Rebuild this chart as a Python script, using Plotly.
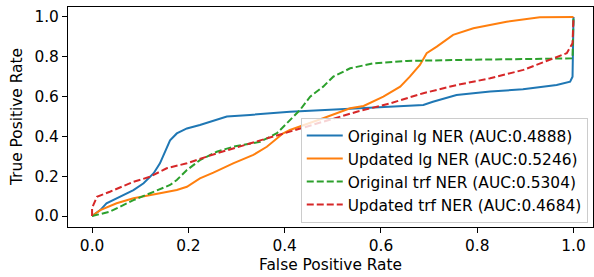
import plotly.graph_objects as go

# Original lg NER (blue, solid)
orig_lg_fpr = [0.0, 0.017, 0.03, 0.086, 0.107, 0.128, 0.141, 0.152, 0.162, 0.176, 0.197, 0.224, 0.259, 0.28, 0.328, 0.397, 0.411, 0.515, 0.598, 0.688, 0.708, 0.757, 0.827, 0.895, 0.965, 0.993, 0.998, 1.0]
orig_lg_tpr = [0.0, 0.03, 0.064, 0.13, 0.165, 0.215, 0.265, 0.33, 0.38, 0.415, 0.44, 0.457, 0.482, 0.5, 0.508, 0.524, 0.524, 0.536, 0.546, 0.558, 0.574, 0.608, 0.625, 0.637, 0.658, 0.675, 0.70, 1.0]

# Updated lg NER (orange, solid)
upd_lg_fpr = [0.0, 0.017, 0.051, 0.086, 0.141, 0.176, 0.197, 0.224, 0.252, 0.293, 0.335, 0.363, 0.397, 0.411, 0.48, 0.536, 0.564, 0.605, 0.64, 0.66, 0.681, 0.695, 0.716, 0.75, 0.792, 0.861, 0.93, 1.0]
upd_lg_tpr = [0.0, 0.03, 0.064, 0.089, 0.114, 0.131, 0.147, 0.189, 0.218, 0.265, 0.307, 0.348, 0.416, 0.432, 0.491, 0.541, 0.553, 0.60, 0.65, 0.70, 0.759, 0.818, 0.851, 0.91, 0.943, 0.976, 0.998, 1.0]

# Original trf NER (green, dashed)
orig_trf_fpr = [0.0, 0.037, 0.086, 0.12, 0.162, 0.176, 0.197, 0.224, 0.259, 0.293, 0.349, 0.384, 0.404, 0.432, 0.453, 0.48, 0.501, 0.536, 0.584, 0.654, 0.757, 0.896, 0.998, 1.0]
orig_trf_tpr = [0.0, 0.022, 0.08, 0.114, 0.156, 0.181, 0.231, 0.281, 0.323, 0.348, 0.373, 0.416, 0.466, 0.533, 0.60, 0.65, 0.70, 0.742, 0.767, 0.779, 0.784, 0.787, 0.792, 1.0]

# Updated trf NER (red, dashed)
upd_trf_fpr = [0.0, 0.0, 0.01, 0.037, 0.086, 0.12, 0.155, 0.197, 0.259, 0.328, 0.384, 0.48, 0.55, 0.619, 0.688, 0.757, 0.827, 0.896, 0.958, 0.986, 0.998, 1.0]
upd_trf_tpr = [0.0, 0.04, 0.097, 0.122, 0.172, 0.197, 0.24, 0.265, 0.315, 0.365, 0.407, 0.474, 0.524, 0.566, 0.617, 0.658, 0.692, 0.734, 0.792, 0.818, 0.868, 1.0]

names = ["Original lg NER (AUC:0.4888)", "Updated lg NER (AUC:0.5246)",
         "Original trf NER (AUC:0.5304)", "Updated trf NER (AUC:0.4684)"]
colors = ["#1f77b4", "#ff7f0e", "#2ca02c", "#d62728"]
dashes = ["solid", "solid", "7px,3px", "7px,3px"]
series = [(orig_lg_fpr, orig_lg_tpr), (upd_lg_fpr, upd_lg_tpr),
          (orig_trf_fpr, orig_trf_tpr), (upd_trf_fpr, upd_trf_tpr)]
tick_vals = [0, 0.2, 0.4, 0.6, 0.8, 1.0]
tick_text = ["0.0", "0.2", "0.4", "0.6", "0.8", "1.0"]

FONT = "DejaVu Sans"
FS = 15.4
fig = go.Figure()
for (xs, ys), n, c, d in zip(series, names, colors, dashes):
    fig.add_trace(go.Scatter(x=xs, y=ys, mode="lines", name=n,
                             line=dict(color=c, width=2, dash=d)))

axis_common = dict(showgrid=False, zeroline=False, showline=True, linecolor="black",
                   linewidth=1, mirror=True, ticks="outside", ticklen=5, tickwidth=1,
                   tickcolor="black", automargin=False,
                   tickfont=dict(family=FONT, size=FS, color="black"),
                   tickvals=tick_vals, ticktext=tick_text)
fig.update_xaxes(range=[-0.05, 1.0405], **axis_common)
fig.update_yaxes(range=[-0.055, 1.05], **axis_common)
fig.add_annotation(text="False Positive Rate", xref="paper", yref="paper",
                   x=0.5, y=-0.1727, xanchor="center", yanchor="middle", showarrow=False,
                   font=dict(family=FONT, size=FS, color="black"))
fig.add_annotation(text="True Positive Rate", xref="paper", yref="paper",
                   x=-0.097, y=0.5, xanchor="center", yanchor="middle", showarrow=False,
                   textangle=-90, font=dict(family=FONT, size=FS, color="black"))
fig.update_layout(
    width=594, height=277,
    margin=dict(l=68, r=1, t=7, b=50, autoexpand=False),
    plot_bgcolor="white", paper_bgcolor="white",
    font=dict(family=FONT, size=FS, color="black"),
    legend=dict(x=0.99, xanchor="right", y=0.018, yanchor="bottom",
                bgcolor="rgba(255,255,255,0.8)", bordercolor="#cccccc", borderwidth=1,
                font=dict(family=FONT, size=FS, color="black"),
                tracegroupgap=0, itemwidth=36),
)
fig.write_html("out.html", config={"displayModeBar": False},
               post_script="document.body.style.margin='0';")
